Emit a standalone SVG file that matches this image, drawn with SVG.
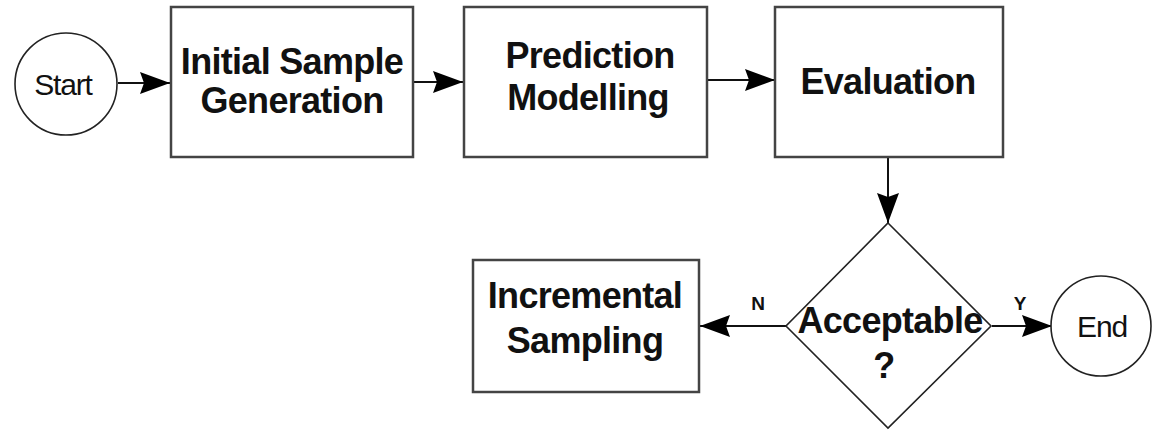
<svg xmlns="http://www.w3.org/2000/svg" width="1153" height="430" viewBox="0 0 1153 430">
<style>
.box{fill:#fff;stroke:#444;stroke-width:2.5}
.term{fill:#fff;stroke:#222;stroke-width:1.6}
.dia{fill:#fff;stroke:#222;stroke-width:1.6}
.lbl{font-family:"Liberation Sans",Arial,sans-serif;font-weight:bold;font-size:36px;fill:#111;text-anchor:middle;letter-spacing:-0.7px}
.tl{font-family:"Liberation Sans",Arial,sans-serif;font-size:30px;fill:#111;text-anchor:middle;letter-spacing:-1.2px}
.yn{font-family:"Liberation Sans",Arial,sans-serif;font-weight:bold;font-size:19px;fill:#111;text-anchor:middle}
.edge{fill:none;stroke:#111;stroke-width:2}
</style>
<defs>
<marker id="ah" markerUnits="userSpaceOnUse" markerWidth="32" markerHeight="24" refX="30" refY="12" orient="auto">
<path d="M0,1 L30,12 L0,23 L4,12 z" fill="#000"/>
</marker>
</defs>
<g id="connectors">
<line class="edge" x1="118" y1="83" x2="170" y2="83" marker-end="url(#ah)"/>
<line class="edge" x1="413" y1="82" x2="463" y2="82" marker-end="url(#ah)"/>
<line class="edge" x1="707" y1="80" x2="775" y2="80" marker-end="url(#ah)"/>
<line class="edge" x1="888" y1="157" x2="888" y2="223" marker-end="url(#ah)"/>
<line class="edge" x1="787" y1="326" x2="700" y2="326" marker-end="url(#ah)"/>
<line class="edge" x1="992" y1="326" x2="1052" y2="326" marker-end="url(#ah)"/>
<text class="yn" x="758" y="310">N</text>
<text class="yn" x="1020" y="310">Y</text>
</g>
<g id="start">
<circle class="term" cx="66" cy="84" r="51"/>
<text class="tl" x="63" y="95">Start</text>
</g>
<g id="initial-sample-generation">
<rect class="box" x="171" y="7" width="242" height="150"/>
<text class="lbl" x="292" y="74">Initial Sample</text>
<text class="lbl" x="292" y="113">Generation</text>
</g>
<g id="prediction-modelling">
<rect class="box" x="464" y="7" width="243" height="150"/>
<text class="lbl" x="590" y="68">Prediction</text>
<text class="lbl" x="588" y="110">Modelling</text>
</g>
<g id="evaluation">
<rect class="box" x="775" y="7" width="228" height="150"/>
<text class="lbl" x="888" y="94">Evaluation</text>
</g>
<g id="acceptable">
<polygon class="dia" points="888,223 991,326 888,428 786,326"/>
<text class="lbl" x="890" y="333">Acceptable</text>
<text class="lbl" x="884" y="378">?</text>
</g>
<g id="incremental-sampling">
<rect class="box" x="473" y="260" width="226" height="132"/>
<text class="lbl" x="585" y="308">Incremental</text>
<text class="lbl" x="585" y="353">Sampling</text>
</g>
<g id="end">
<circle class="term" cx="1101" cy="326" r="50"/>
<text class="tl" x="1102" y="337">End</text>
</g>
</svg>
